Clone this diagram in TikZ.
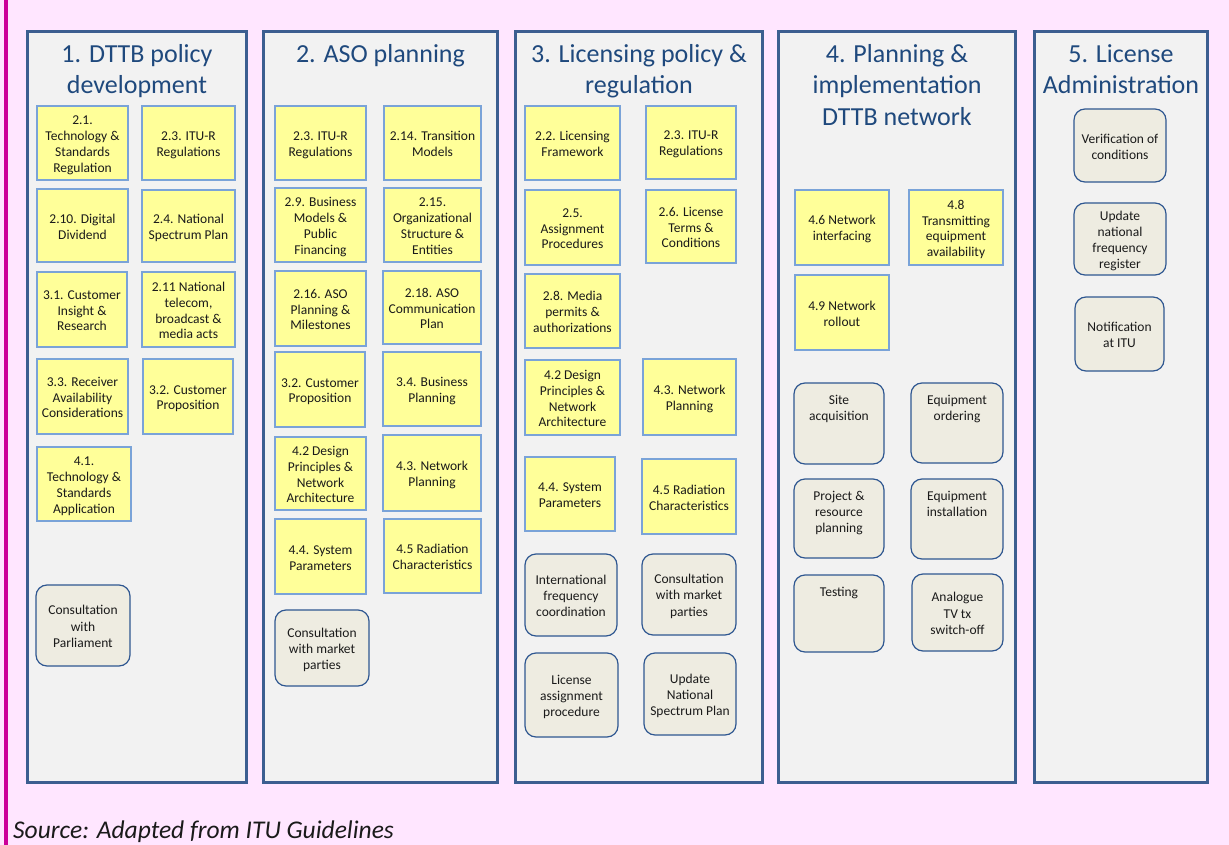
\documentclass[tikz,border=0pt]{standalone}
\usepackage{fontspec}
\setmainfont{Carlito}
\definecolor{bgpink}{HTML}{FFE6FF}
\definecolor{barmag}{HTML}{CC0099}
\definecolor{panelfill}{HTML}{F2F2F2}
\definecolor{panelbord}{HTML}{3C5E90}
\definecolor{titleblue}{HTML}{1F497D}
\definecolor{yfill}{HTML}{FFFF99}
\definecolor{ybord}{HTML}{7AA3D8}
\definecolor{gfill}{HTML}{EEECE1}
\definecolor{gbord}{HTML}{2F5791}
\definecolor{txt}{HTML}{1A1A1A}
\newcommand\topst{\rule{0pt}{13pt}}
\newcommand\botst{\rule[-1.7pt]{0pt}{0pt}}
\tikzset{
  panel/.style={draw=panelbord, fill=panelfill, line width=3.5pt},
  ptitle/.style={text=titleblue, align=center, inner sep=0pt, font=\fontsize{26}{31.5}\selectfont},
  yb/.style={draw=ybord, fill=yfill, line width=1.3pt, inner sep=0pt, align=center, text=txt, font=\fontsize{13.5}{15.8}\selectfont},
  gb/.style={draw=gbord, fill=gfill, line width=1.2pt, rounded corners=11pt, inner sep=0pt, align=center, text=txt, font=\fontsize{13.5}{16.2}\selectfont},
  gtext/.style={inner sep=0pt, align=center, text=txt, font=\fontsize{13.5}{16.2}\selectfont},
}
\newcommand\YB[6]{\node[yb, minimum width={#4-#2}, minimum height={#5-#3}] (#1) at ({(#2+#4)/2},{(#3+#5)/2}) {\topst #6\botst};}
\newcommand\GB[6]{\node[gb, minimum width={#4-#2}, minimum height={#5-#3}] (#1) at ({(#2+#4)/2},{(#3+#5)/2}) {\topst #6\botst};}
\newcommand\GT[6]{\node[gb, minimum width={#4-#2}, minimum height={#5-#3}] (#1) at ({(#2+#4)/2},{(#3+#5)/2}) {};
  \node[gtext, anchor=north] (#1-t) at ([yshift=-10.5pt]#1.north) {\strut #6};}
\begin{document}
\begin{tikzpicture}[x=1pt,y=-1pt]
\useasboundingbox (0,0) rectangle (1229,845);
\fill[bgpink] (0,0) rectangle (1229,845);
\fill[barmag] (4,0) rectangle (8,845);
% panels
\draw[panel] (27.5,31.5) rectangle (246.5,782.5);
\draw[panel] (263.5,31.5) rectangle (497.5,782.5);
\draw[panel] (515.5,31.5) rectangle (762.5,782.5);
\draw[panel] (778.5,31.5) rectangle (1015.5,782.5);
\draw[panel] (1034.5,31.5) rectangle (1207.5,782.5);
% titles
\node[ptitle, anchor=north] (t1) at (137,40) {\strut 1. DTTB policy\\development};
\node[ptitle, anchor=north] (t2) at (380.5,40) {\strut 2. ASO planning};
\node[ptitle, anchor=north] (t3) at (639,40) {\strut 3. Licensing policy \&\\regulation};
\node[ptitle, anchor=north] (t4) at (897,40) {\strut 4. Planning \&\\implementation\\DTTB network};
\node[ptitle, anchor=north] (t5) at (1121,40) {\strut 5. License\\Administration};
% column 1
\YB{c1a}{37}{106}{128}{180}{2.1.\\Technology \&\\Standards\\Regulation}
\YB{c1b}{142}{106}{235}{180}{2.3. ITU-R\\Regulations}
\YB{c1c}{37}{189}{128}{262}{2.10. Digital\\Dividend}
\YB{c1d}{142}{190}{235}{262}{2.4. National\\Spectrum Plan}
\YB{c1e}{37}{272}{127}{347}{3.1. Customer\\Insight \&\\Research}
\YB{c1f}{142}{272}{235}{347}{2.11 National\\telecom,\\broadcast \&\\media acts}
\YB{c1g}{37}{359}{128}{434}{3.3. Receiver\\Availability\\Considerations}
\YB{c1h}{143}{359}{233}{434}{3.2. Customer\\Proposition}
\YB{c1i}{37}{447}{131}{521}{4.1.\\Technology \&\\Standards\\Application}
\GB{c1j}{36}{585}{130}{666}{Consultation\\with\\Parliament}
% column 2
\YB{c2a}{275}{106}{366}{180}{2.3. ITU-R\\Regulations}
\YB{c2b}{384}{106}{481}{180}{2.14. Transition\\Models}
\YB{c2c}{275}{188}{366}{262}{2.9. Business\\Models \&\\Public\\Financing}
\YB{c2d}{384}{188}{481}{262}{2.15.\\Organizational\\Structure \&\\Entities}
\YB{c2e}{275}{271}{366}{346}{2.16. ASO\\Planning \&\\Milestones}
\YB{c2f}{383}{271}{481}{344}{2.18. ASO\\Communication\\Plan}
\YB{c2g}{275}{352}{365}{427}{3.2. Customer\\Proposition}
\YB{c2h}{383}{352}{481}{426}{3.4. Business\\Planning}
\YB{c2i}{275}{437}{366}{510}{4.2 Design\\Principles \&\\Network\\Architecture}
\YB{c2j}{383}{435}{481}{511}{4.3. Network\\Planning}
\YB{c2k}{275}{519}{366}{594}{4.4. System\\Parameters}
\YB{c2l}{384}{519}{481}{593}{4.5 Radiation\\Characteristics}
\GB{c2m}{275}{610}{369}{686}{Consultation\\with market\\parties}
% column 3
\YB{c3a}{525}{106}{620}{180}{2.2. Licensing\\Framework}
\YB{c3b}{646}{106}{736}{179}{2.3. ITU-R\\Regulations}
\YB{c3c}{525}{190}{620}{265}{2.5.\\Assignment\\Procedures}
\YB{c3d}{646}{190}{736}{263}{2.6. License\\Terms \&\\Conditions}
\YB{c3e}{525}{274}{620}{348}{2.8. Media\\permits \&\\authorizations}
\YB{c3f}{525}{360}{620}{435}{4.2 Design\\Principles \&\\Network\\Architecture}
\YB{c3g}{643}{359}{736}{435}{4.3. Network\\Planning}
\YB{c3h}{525}{457}{615}{531}{4.4. System\\Parameters}
\YB{c3i}{642}{459}{736}{534}{4.5 Radiation\\Characteristics}
\GB{c3j}{525}{554}{617}{636}{International\\frequency\\coordination}
\GB{c3k}{642}{554}{736}{635}{Consultation\\with market\\parties}
\GB{c3l}{525}{653}{618}{737}{License\\assignment\\procedure}
\GB{c3m}{644}{653}{736}{735}{Update\\National\\Spectrum Plan}
% column 4
\YB{c4a}{795}{190}{889}{265}{4.6 Network\\interfacing}
\YB{c4b}{909}{190}{1003}{265}{4.8\\Transmitting\\equipment\\availability}
\YB{c4c}{795}{275}{889}{350}{4.9 Network\\rollout}
\GT{c4d}{794}{383}{884}{464}{Site\\acquisition}
\GT{c4e}{911}{383}{1003}{463}{Equipment\\ordering}
\GT{c4f}{794}{479}{884}{558}{Project \&\\resource\\planning}
\GT{c4g}{911}{479}{1003}{559}{Equipment\\installation}
\GT{c4h}{794}{575}{884}{652}{Testing}
\GB{c4i}{912}{574}{1003}{651}{Analogue\\TV tx\\switch-off}
% column 5
\GB{c5a}{1074}{109}{1166}{182}{Verification of\\conditions}
\GB{c5b}{1074}{203}{1166}{275}{Update\\national\\frequency\\register}
\GB{c5c}{1075}{297}{1164}{371}{Notification\\at ITU}
% source
\node[anchor=base west, inner sep=0pt, text=txt, font=\fontsize{25.5}{30}\selectfont\itshape] (src) at (13,838) {Source: Adapted from ITU Guidelines};
\end{tikzpicture}
\end{document}
